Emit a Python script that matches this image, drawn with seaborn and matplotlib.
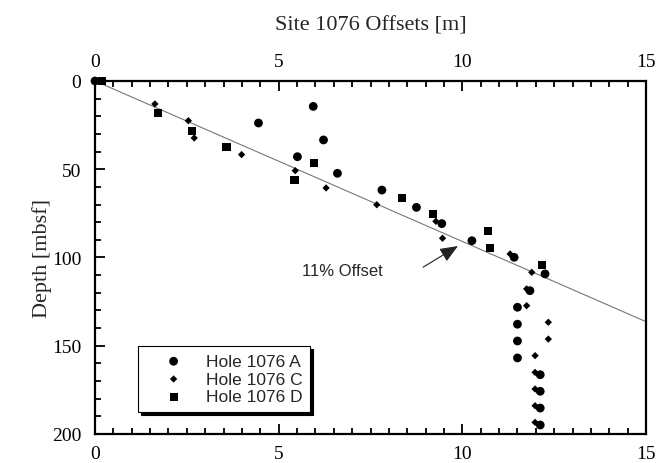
import numpy as np
import pandas as pd
import matplotlib
matplotlib.use("Agg")
import matplotlib.pyplot as plt
import seaborn as sns
from matplotlib.ticker import MultipleLocator

# Hole 1076 A (circles)
a_offset = [0.0, 5.94, 4.45, 6.22, 5.51, 6.60, 7.81, 8.75, 9.44, 10.26, 11.41, 12.25,
            11.84, 11.50, 11.50, 11.50, 11.50, 12.12, 12.12, 12.12, 12.12]
a_depth = [0.0, 14.4, 23.8, 33.4, 42.9, 52.3, 61.8, 71.6, 80.8, 90.5, 99.9, 109.3,
           118.8, 128.2, 137.8, 147.3, 156.9, 166.4, 175.8, 185.3, 194.9]

# Hole 1076 C (diamonds)
c_offset = [0.1, 1.63, 2.54, 2.70, 3.99, 5.45, 6.29, 7.67, 9.28, 9.46, 11.30, 11.89,
            11.75, 11.75, 12.34, 12.34, 11.98, 11.98, 11.98, 11.98, 11.98]
c_depth = [0.0, 13.0, 22.5, 32.3, 41.7, 50.8, 60.6, 70.1, 79.5, 89.1, 98.0, 108.4,
           117.8, 127.3, 136.7, 146.2, 155.6, 165.1, 174.5, 184.0, 193.4]

# Hole 1076 D (squares)
d_offset = [0.2, 1.71, 2.65, 3.58, 5.97, 5.43, 8.35, 9.20, 10.71, 10.75, 12.16]
d_depth = [0.0, 18.3, 28.2, 37.6, 46.6, 56.1, 66.3, 75.4, 85.2, 94.6, 104.2]

hole_names = ["Hole 1076 A", "Hole 1076 C", "Hole 1076 D"]

# 11% offset reference line
offset_rate = 0.11
line_offset = np.array([0.0, 15.0])
line_depth = line_offset / offset_rate

df = pd.concat([
    pd.DataFrame({"offset": a_offset, "depth": a_depth, "hole": hole_names[0]}),
    pd.DataFrame({"offset": c_offset, "depth": c_depth, "hole": hole_names[1]}),
    pd.DataFrame({"offset": d_offset, "depth": d_depth, "hole": hole_names[2]}),
], ignore_index=True)

sns.set_style("ticks")
serif = ["Liberation Serif", "DejaVu Serif"]
sans = ["Liberation Sans", "DejaVu Sans"]
plt.rcParams["font.family"] = serif

fig = plt.figure(figsize=(6.59, 4.64), dpi=100)
ax = fig.add_axes([0.1442, 0.0625, 0.9803 - 0.1442, 0.8233 - 0.0625])

ax.plot(line_offset, line_depth, color="#777777", lw=0.8, zorder=1)

markers = {hole_names[0]: "o", hole_names[1]: "D", hole_names[2]: "s"}
sizes = {hole_names[0]: 40, hole_names[1]: 14, hole_names[2]: 34}
for name in hole_names:
    sub = df[df["hole"] == name]
    sns.scatterplot(data=sub, x="offset", y="depth", marker=markers[name],
                    s=sizes[name], color="black", edgecolor="none",
                    label=name, ax=ax, zorder=3, clip_on=False)

ax.set_xlim(0, 15)
ax.set_ylim(200, 0)
ax.xaxis.set_major_locator(MultipleLocator(5))
ax.xaxis.set_minor_locator(MultipleLocator(0.5))
ax.yaxis.set_major_locator(MultipleLocator(50))
ax.yaxis.set_minor_locator(MultipleLocator(10))
ax.tick_params(which="both", direction="in", top=True, bottom=True, left=True,
               right=False, labeltop=True, labelbottom=True, width=1.3,
               labelsize=14, colors="black")
ax.tick_params(axis="x", which="major", pad=8)
ax.tick_params(axis="y", which="major", pad=10)
ax.tick_params(which="major", length=7)
ax.tick_params(which="minor", length=4)
for lab in ax.get_xticklabels(which="both") + ax.get_yticklabels():
    lab.set_family(serif)
for sp in ax.spines.values():
    sp.set_linewidth(1.6)
    sp.set_color("black")

ax.set_xlabel("")
ax.set_ylabel("Depth [mbsf]", fontsize=16, labelpad=0, family=serif)
ax.set_title("Site 1076 Offsets [m]", fontsize=16, pad=37, family=serif)

# arrow pointing at the reference line, with its label to the lower left
ax.annotate("", xy=(9.88, 93.5), xytext=(8.93, 105.5),
            arrowprops=dict(arrowstyle="-|>,head_length=1.1,head_width=0.45",
                            color="#222222", lw=0.8, shrinkA=0, shrinkB=0))
ax.text(7.84, 107.6, "11% Offset", fontsize=12, family=sans,
        ha="right", va="center")

leg = ax.legend(loc="lower left", bbox_to_anchor=(0.078, 0.062), frameon=True,
                fancybox=False, shadow={"color": "black", "alpha": 1.0},
                prop={"family": sans, "size": 12.5}, handletextpad=0.25,
                borderpad=0.45, labelspacing=0.15, handlelength=3.2,
                borderaxespad=0, markerscale=1.0)
leg.get_frame().set_edgecolor("black")
leg.get_frame().set_linewidth(0.8)

fig.savefig("out.png", dpi=100)
